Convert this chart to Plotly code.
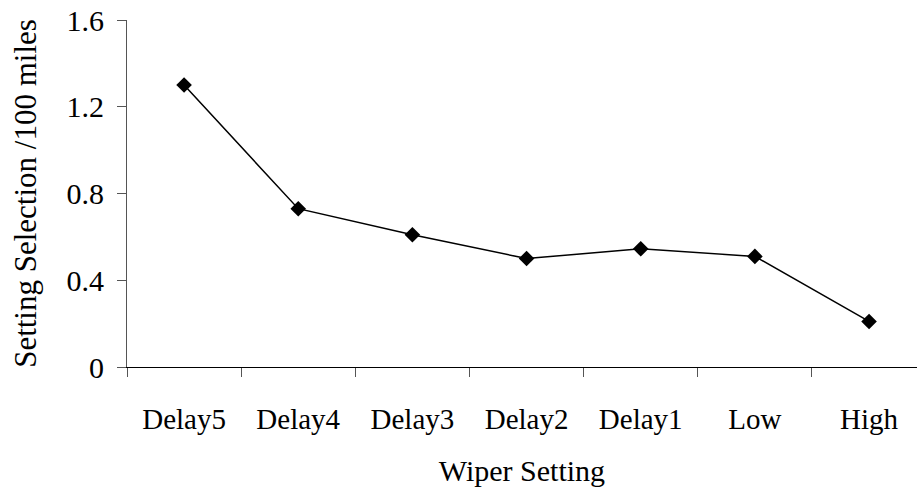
import plotly.graph_objects as go

categories = ["Delay5", "Delay4", "Delay3", "Delay2", "Delay1", "Low", "High"]
selection_per_100mi = [1.30, 0.73, 0.61, 0.50, 0.545, 0.51, 0.21]
y_tick_vals = [0, 0.4, 0.8, 1.2, 1.6]
y_tick_text = ["0", "0.4", "0.8", "1.2", "1.6"]

font_family = "Liberation Serif"

fig = go.Figure(
    go.Scatter(
        x=categories,
        y=selection_per_100mi,
        mode="lines+markers",
        line=dict(color="black", width=1.5),
        marker=dict(symbol="diamond", size=12, color="black"),
        showlegend=False,
    )
)

fig.update_layout(
    width=917,
    height=492,
    margin=dict(l=127, r=0, t=20, b=125),
    paper_bgcolor="white",
    plot_bgcolor="white",
    font=dict(family=font_family, size=28, color="black"),
)

fig.update_xaxes(
    type="category",
    range=[-0.5, 6.42],
    showline=True,
    linecolor="black",
    linewidth=1.2,
    ticks="outside",
    tickson="boundaries",
    ticklen=9,
    tickcolor="#555555",
    tickwidth=1,
    showgrid=False,
    zeroline=False,
    ticklabelstandoff=26,
    tickfont=dict(family=font_family, size=29),
    title=dict(text="Wiper Setting", font=dict(family=font_family, size=30), standoff=26),
)

fig.update_yaxes(
    range=[0, 1.6],
    tickvals=y_tick_vals,
    ticktext=y_tick_text,
    showline=True,
    linecolor="#555555",
    linewidth=1,
    ticks="outside",
    ticklen=9,
    tickcolor="#555555",
    showgrid=False,
    zeroline=False,
    ticklabelstandoff=7,
    tickfont=dict(family=font_family, size=30),
    title=dict(text="Setting Selection /100 miles", font=dict(family=font_family, size=31), standoff=20),
)

fig.write_html(
    "out.html",
    config={"displayModeBar": False},
    post_script="document.body.style.margin='0';document.body.style.padding='0';",
)
